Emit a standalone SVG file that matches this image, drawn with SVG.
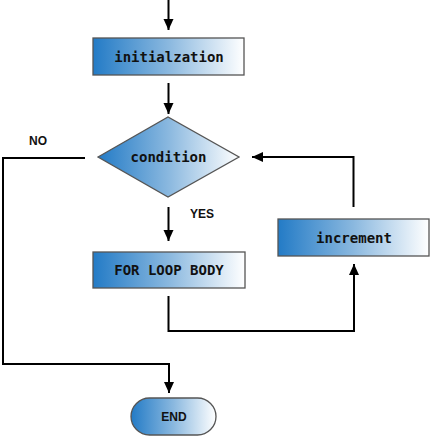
<svg xmlns="http://www.w3.org/2000/svg" width="430" height="436" viewBox="0 0 430 436">
<defs>
<linearGradient id="g" x1="0" y1="0" x2="1" y2="0">
<stop offset="0" stop-color="#237bc6"/>
<stop offset="0.5" stop-color="#8ab8df"/>
<stop offset="1" stop-color="#ffffff"/>
</linearGradient>
<marker id="ah" markerUnits="userSpaceOnUse" markerWidth="12" markerHeight="12" viewBox="0 0 12 12" refX="11" refY="6" orient="auto">
<path d="M0,1 L11,6 L0,11 Z" fill="#000"/>
</marker>
</defs>
<style>
.box{fill:url(#g);stroke:#555;stroke-width:1.3}
.mono{font-family:"DejaVu Sans Mono","Liberation Mono",monospace;font-size:14px;font-weight:bold;fill:#111;text-anchor:middle;dominant-baseline:central}
.lbl{font-family:"Liberation Sans",Arial,sans-serif;font-size:12px;font-weight:bold;fill:#111;text-anchor:middle;dominant-baseline:central}
.c{fill:none;stroke:#000;stroke-width:2}
</style>
<rect width="430" height="436" fill="#fff"/>
<g id="connectors">
<path class="c" d="M168.5,0 V30" marker-end="url(#ah)"/>
<path class="c" d="M168.5,83 V114" marker-end="url(#ah)"/>
<path class="c" d="M168.5,207 V241" marker-end="url(#ah)"/>
<path class="c" d="M85,158 H3 V364 H169 V393" marker-end="url(#ah)"/>
<path class="c" d="M168.5,296 V331 H354 V264" marker-end="url(#ah)"/>
<path class="c" d="M353.5,207 V157 H252" marker-end="url(#ah)"/>
</g>
<g id="initialization">
<rect class="box" x="93" y="38" width="151" height="37"/>
<text class="mono" x="169" y="57">initialzation</text>
</g>
<g id="condition">
<polygon class="box" points="98,157 168,117 239,157 168,197"/>
<text class="mono" x="168.5" y="157">condition</text>
</g>
<g id="body">
<rect class="box" x="93" y="252" width="152" height="36"/>
<text class="mono" x="169" y="270">FOR LOOP BODY</text>
</g>
<g id="increment">
<rect class="box" x="278" y="219" width="151" height="37"/>
<text class="mono" x="354" y="238">increment</text>
</g>
<g id="end">
<rect class="box" x="131" y="398" width="85" height="37" rx="18.5"/>
<text class="lbl" x="174" y="417">END</text>
</g>
<g id="labels">
<text class="lbl" x="38" y="141">NO</text>
<text class="lbl" x="202" y="214">YES</text>
</g>
</svg>
